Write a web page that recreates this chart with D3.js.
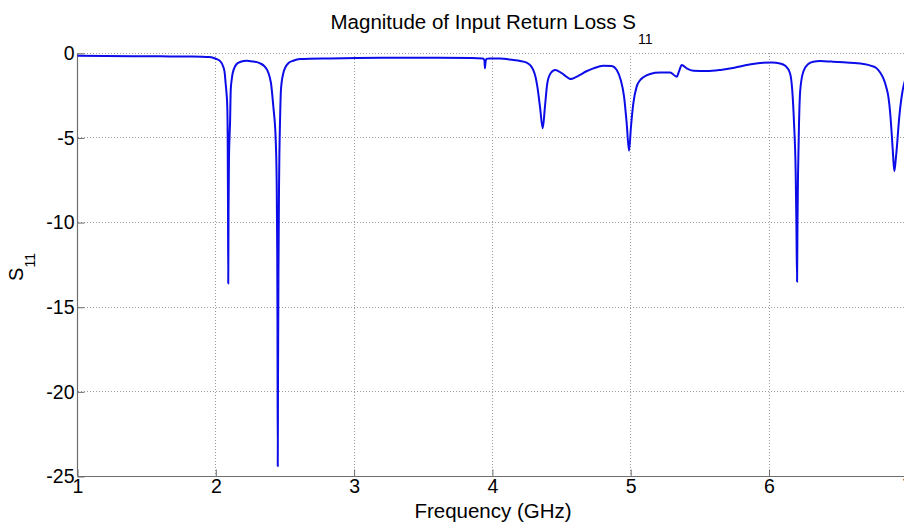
<!DOCTYPE html>
<html>
<head>
<meta charset="utf-8">
<script src="https://cdn.jsdelivr.net/npm/d3@7/dist/d3.min.js"></script>
<style>
  html, body { margin: 0; padding: 0; background: #fff; overflow: hidden; }
  svg { display: block; font-family: "Liberation Sans", Arial, Helvetica, sans-serif; }
</style>
</head>
<body>
<svg id="chart" width="904" height="526"></svg>
<script>
// ---- Data ----
const freqGHz = [
  1.00, 1.20, 1.40, 1.60, 1.80, 1.90, 1.95, 1.98, 2.00, 2.03,
  2.054, 2.065, 2.071, 2.078, 2.083, 2.086, 2.088, 2.090, 2.092, 2.095,
  2.099, 2.103, 2.108, 2.115, 2.122, 2.135, 2.151, 2.18, 2.223, 2.27,
  2.32, 2.35, 2.372, 2.388, 2.399, 2.416, 2.433, 2.440, 2.444, 2.446,
  2.448, 2.450, 2.453, 2.457, 2.460, 2.464, 2.471, 2.488, 2.505, 2.524,
  2.56, 2.609, 2.826, 3.2, 3.6, 3.85, 3.93, 3.942, 3.946, 3.950,
  3.956, 3.98, 4.05, 4.151, 4.20, 4.248, 4.275, 4.296, 4.312, 4.325,
  4.344, 4.364, 4.380, 4.397, 4.421, 4.453, 4.483, 4.513, 4.568, 4.600,
  4.633, 4.680, 4.730, 4.802, 4.863, 4.899, 4.928, 4.952, 4.971, 4.988,
  5.002, 5.019, 5.043, 5.065, 5.091, 5.140, 5.212, 5.285, 5.333, 5.350,
  5.369, 5.405, 5.453, 5.550, 5.65, 5.75, 5.85, 5.935, 6.02, 6.08,
  6.12, 6.152, 6.168, 6.181, 6.193, 6.198, 6.203, 6.206, 6.210, 6.217,
  6.226, 6.248, 6.284, 6.320, 6.369, 6.450, 6.537, 6.620, 6.682, 6.740,
  6.779, 6.805, 6.827, 6.848, 6.863, 6.877, 6.887, 6.897, 6.906, 6.915,
  6.923, 6.942, 6.967, 6.985, 7.00
];
const s11dB = [
  -0.15, -0.16, -0.17, -0.18, -0.19, -0.20, -0.22, -0.26, -0.32, -0.45,
  -0.79, -1.2, -1.77, -2.4, -3.15, -5.0, -8.5, -13.6, -9.5, -6.5,
  -5.0, -4.1, -2.17, -1.55, -1.18, -0.85, -0.63, -0.50, -0.44, -0.49,
  -0.59, -0.75, -0.99, -1.35, -1.77, -3.15, -5.08, -7.5, -11.5, -16,
  -24.4, -19, -13, -8, -5.8, -4.14, -2.17, -1.18, -0.80, -0.59,
  -0.44, -0.34, -0.30, -0.27, -0.27, -0.28, -0.30, -0.40, -0.88, -0.55,
  -0.33, -0.30, -0.31, -0.40, -0.45, -0.55, -0.72, -0.99, -1.4, -1.97,
  -3.15, -4.43, -3.15, -1.77, -1.18, -0.99, -1.08, -1.24, -1.52, -1.42,
  -1.28, -1.06, -0.89, -0.73, -0.75, -0.99, -1.58, -2.56, -4.14, -5.76,
  -4.34, -2.96, -1.97, -1.62, -1.42, -1.22, -1.14, -1.14, -1.38, -1.05,
  -0.69, -0.89, -1.03, -1.05, -0.98, -0.85, -0.68, -0.57, -0.55, -0.60,
  -0.75, -1.18, -2.17, -4.14, -7.1, -10, -13.5, -10, -7.1, -4.14,
  -2.17, -1.09, -0.63, -0.50, -0.46, -0.49, -0.53, -0.58, -0.63, -0.74,
  -0.89, -1.15, -1.48, -2.0, -2.56, -3.6, -4.73, -6.0, -6.96, -6.4,
  -5.7, -3.75, -2.17, -1.55, -1.25
];
const xTicks = [1, 2, 3, 4, 5, 6, 7];
const yTicks = [0, -5, -10, -15, -20, -25];
const titleText = "Magnitude of Input Return Loss S";
const titleSub = "11";
const xLabelText = "Frequency (GHz)";
const yLabelText = "S";
const yLabelSub = "11";

// ---- Layout ----
const svg = d3.select("#chart");
const plotLeft = 77.5, plotRight = 907.3, plotTop = 53.3, plotBottom = 476.5;

const x = d3.scaleLinear().domain([1, 7]).range([plotLeft, plotRight]);
const y = d3.scaleLinear().domain([-25, 0]).range([plotBottom, plotTop]);

const gridColor = "#9a9a9a";
const axisColor = "#6e6e6e";

// Grid lines (dotted)
const grid = svg.append("g");
grid.selectAll("line.gx").data(xTicks.slice(1)).join("line")
  .attr("class", "gx")
  .attr("x1", d => x(d)).attr("x2", d => x(d))
  .attr("y1", plotTop).attr("y2", plotBottom)
  .attr("stroke", gridColor).attr("stroke-width", 1)
  .attr("stroke-dasharray", "1,2").attr("shape-rendering", "crispEdges");
grid.selectAll("line.gy").data(yTicks.slice(0, -1)).join("line")
  .attr("class", "gy")
  .attr("x1", plotLeft).attr("x2", plotRight)
  .attr("y1", d => y(d)).attr("y2", d => y(d))
  .attr("stroke", gridColor).attr("stroke-width", 1)
  .attr("stroke-dasharray", "1,2").attr("shape-rendering", "crispEdges");

// Axes
const xAxis = d3.axisBottom(x).tickValues(xTicks).tickSize(-7).tickPadding(10)
  .tickFormat(d3.format("d"));
const yAxis = d3.axisLeft(y).tickValues(yTicks).tickSize(-7).tickPadding(4)
  .tickFormat(d => String(d));

const gx = svg.append("g").attr("transform", `translate(0,${plotBottom})`).call(xAxis);
const gy = svg.append("g").attr("transform", `translate(${plotLeft},0)`).call(yAxis);

[gx, gy].forEach(g => {
  g.select(".domain").attr("stroke", axisColor).attr("stroke-width", 1.2);
  g.selectAll(".tick line").attr("stroke", axisColor).attr("stroke-width", 1);
  g.selectAll(".tick text").attr("fill", "#000")
    .attr("font-family", "Liberation Sans, Arial, sans-serif")
    .attr("font-size", 19.5);
});
gx.select(".domain").attr("d", `M${plotLeft},0H${plotRight}`);
gy.select(".domain").attr("d", `M0,${y(-25)}V${y(0)}`);
gx.selectAll(".tick text").attr("dy", "0.71em").attr("y", 3);
gy.selectAll(".tick text").attr("x", -3);

// Data line
const line = d3.line()
  .curve(d3.curveMonotoneX)
  .x((d, i) => x(freqGHz[i]))
  .y((d, i) => y(s11dB[i]));
svg.append("path")
  .datum(s11dB)
  .attr("fill", "none")
  .attr("stroke", "#0c0ce8")
  .attr("stroke-width", 2)
  .attr("stroke-linejoin", "round")
  .attr("d", line);

// Title
const title = svg.append("text")
  .attr("x", 491.5).attr("y", 28.7)
  .attr("text-anchor", "middle")
  .attr("font-size", 20.5).attr("fill", "#000");
title.append("tspan").text(titleText);
title.append("tspan").attr("font-size", 14).attr("dx", 2).attr("dy", 15).text(titleSub);

// X label
svg.append("text")
  .attr("x", 493).attr("y", 518)
  .attr("text-anchor", "middle")
  .attr("font-size", 20.5).attr("fill", "#000")
  .text(xLabelText);

// Y label
const yl = svg.append("text")
  .attr("transform", "translate(22.5,267) rotate(-90)")
  .attr("text-anchor", "middle")
  .attr("font-size", 20).attr("fill", "#000");
yl.append("tspan").text(yLabelText);
yl.append("tspan").attr("font-size", 14).attr("dy", 12).text(yLabelSub);
</script>
</body>
</html>
